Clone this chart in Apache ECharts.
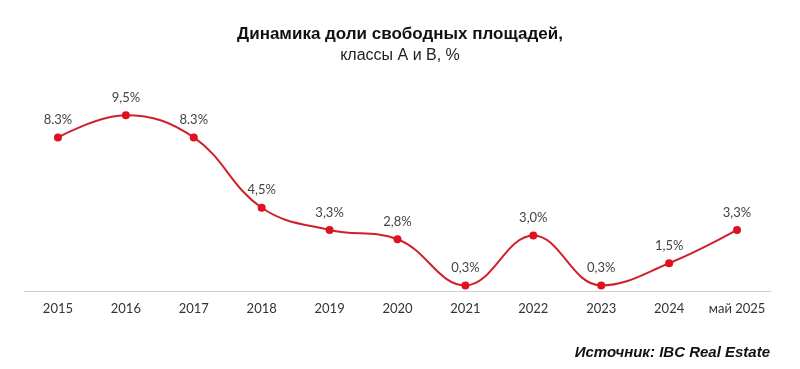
<!DOCTYPE html>
<html>
<head>
<meta charset="utf-8">
<script src="https://cdn.jsdelivr.net/npm/echarts@6/dist/echarts.min.js"></script>
<style>
html,body{margin:0;padding:0;background:#fff;}
#c{width:800px;height:369px;}
</style>
</head>
<body>
<div id="c"></div>
<script>
var categories = ['2015','2016','2017','2018','2019','2020','2021','2022','2023','2024','май 2025'];
var values = [8.3, 9.5, 8.3, 4.5, 3.3, 2.8, 0.3, 3.0, 0.3, 1.5, 3.3];
var pointLabels = ['8.3%','9,5%','8.3%','4,5%','3,3%','2,8%','0,3%','3,0%','0,3%','1,5%','3,3%'];

var chart = echarts.init(document.getElementById('c'));
chart.setOption({
  backgroundColor: '#fff',
  animation: false,
  title: [
    {text: 'Динамика доли свободных площадей,', left: 'center', top: 21,
     textStyle: {fontFamily: 'Liberation Sans, Arial', fontWeight: 'bold', fontSize: 17, color: '#111'}},
    {text: 'классы А и В, %', left: 'center', top: 43,
     textStyle: {fontFamily: 'Liberation Sans, Arial', fontWeight: 'normal', fontSize: 16, color: '#222'}},
    {text: 'Источник: IBC Real Estate', right: 25, top: 340,
     textStyle: {fontFamily: 'Liberation Sans, Arial', fontWeight: 'bold', fontStyle: 'italic', fontSize: 15, color: '#111'}}
  ],
  grid: {left: 24, right: 29, top: 106, bottom: 78},
  xAxis: {
    type: 'category',
    data: categories,
    boundaryGap: true,
    axisLine: {lineStyle: {color: '#d0d0d0', width: 1}},
    axisTick: {show: false},
    axisLabel: {color: '#333', fontSize: 13, fontFamily: 'Lato, Noto Sans', margin: 11, interval: 0}
  },
  yAxis: {
    type: 'value', min: 0, max: 10,
    show: false,
    splitLine: {show: false}
  },
  series: [{
    type: 'line',
    data: values,
    smooth: 0.4,
    symbol: 'circle',
    symbolSize: 8,
    lineStyle: {color: '#d0202e', width: 2},
    itemStyle: {color: '#e0101e'},
    label: {
      show: true, position: 'top', distance: 7,
      color: '#444', fontSize: 13, fontFamily: 'Lato, Noto Sans',
      formatter: function (p) { return pointLabels[p.dataIndex]; }
    }
  }]
});
</script>
</body>
</html>
